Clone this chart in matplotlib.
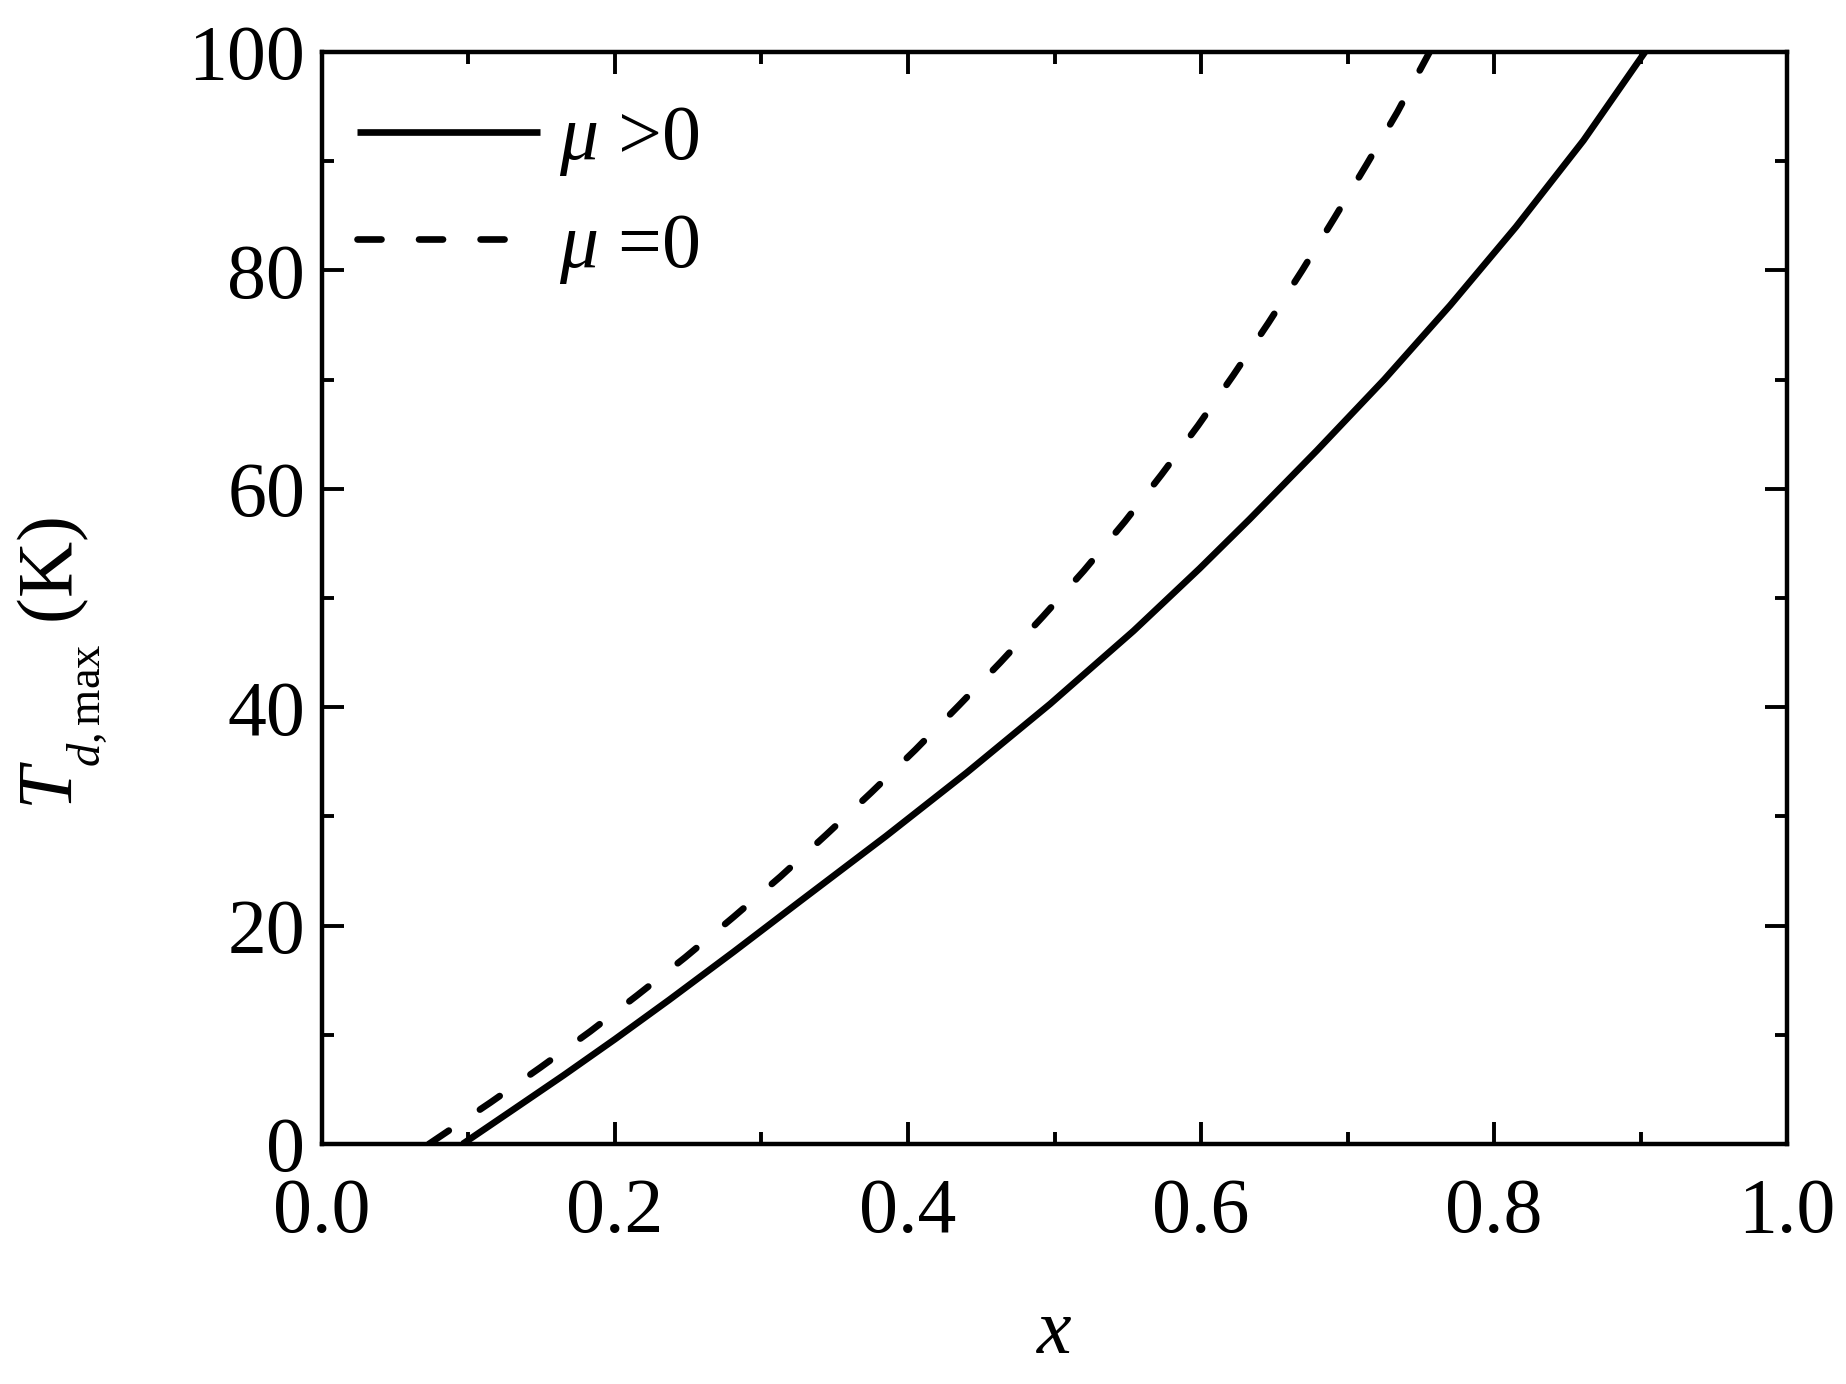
import matplotlib
matplotlib.use("Agg")
import matplotlib.pyplot as plt
from matplotlib import _mathtext
from matplotlib.ticker import MultipleLocator

# ---------------------------------------------------------------
# data
# ---------------------------------------------------------------
x_mu_pos = [0.096, 0.130, 0.165, 0.200, 0.237, 0.281, 0.326, 0.385, 0.440,
            0.497, 0.554, 0.599, 0.633, 0.679, 0.725, 0.770, 0.815, 0.861,
            0.903]
T_mu_pos = [0.0, 3.1, 6.3, 9.6, 13.2, 17.6, 22.2, 28.2, 34.0,
            40.3, 47.0, 52.7, 57.2, 63.5, 70.0, 76.8, 84.0, 91.9,
            100.0]

x_mu_zero = [0.073, 0.115, 0.149, 0.183, 0.215, 0.248, 0.281, 0.313, 0.344,
             0.375, 0.405, 0.435, 0.463, 0.492, 0.520, 0.548, 0.573, 0.598,
             0.622, 0.646, 0.669, 0.691, 0.713, 0.734, 0.756]
T_mu_zero = [0.0, 3.8, 7.0, 10.3, 13.6, 17.1, 20.8, 24.5, 28.3,
             32.2, 36.1, 40.2, 44.1, 48.3, 52.5, 57.0, 61.3, 65.8,
             70.4, 75.2, 80.0, 84.8, 89.7, 94.5, 100.0]

labels = [r"$\mu$ >0", r"$\mu$ =0"]

plt.rcParams["font.family"] = ["Liberation Serif", "DejaVu Serif"]
plt.rcParams["mathtext.fontset"] = "custom"
plt.rcParams["mathtext.rm"] = "Liberation Serif"
plt.rcParams["mathtext.it"] = "Liberation Serif:italic"
plt.rcParams["mathtext.bf"] = "Liberation Serif:bold"
# smaller, lower subscript like in the original (T_d,max)
_mathtext.SHRINK_FACTOR = 0.6
_mathtext.FontConstantsBase.sub1 = 0.8

fig = plt.figure(figsize=(9.23, 6.92), dpi=200)
ax = fig.add_axes([0.1744, 0.1734, 0.9681 - 0.1744, 0.9624 - 0.1734])

ax.plot(x_mu_pos, T_mu_pos, color="black", lw=2.4, solid_capstyle="butt",
        solid_joinstyle="round", label=labels[0])
ax.plot(x_mu_zero, T_mu_zero, color="black", lw=2.4,
        linestyle=(0, (3.6, 5.63)), dash_capstyle="round", label=labels[1])

ax.set_xlim(0, 1.0)
ax.set_ylim(0, 100)
ax.xaxis.set_major_locator(MultipleLocator(0.2))
ax.xaxis.set_minor_locator(MultipleLocator(0.1))
ax.yaxis.set_major_locator(MultipleLocator(20))
ax.yaxis.set_minor_locator(MultipleLocator(10))
ax.xaxis.set_major_formatter(plt.FuncFormatter(lambda v, p: f"{v:.1f}"))
ax.yaxis.set_major_formatter(plt.FuncFormatter(lambda v, p: f"{v:.0f}"))

for s in ax.spines.values():
    s.set_linewidth(1.6)
ax.tick_params(which="both", direction="in", top=True, right=True,
               width=1.4, labelsize=28)
ax.tick_params(which="major", length=7.9)
ax.tick_params(which="minor", length=4.3)
ax.tick_params(axis="x", which="major", pad=12)
ax.tick_params(axis="y", which="major", pad=6)

ax.set_xlabel(r"$x$", fontsize=28, labelpad=18)
ax.set_ylabel(r"$T_{d,\mathrm{max}}$ (K)", fontsize=28)
ax.yaxis.set_label_coords(-0.145, 0.44)

leg = ax.legend(loc="upper left", bbox_to_anchor=(0.024, 0.952),
                frameon=False, fontsize=28, handlelength=2.35,
                handletextpad=0.25, borderpad=0, borderaxespad=0,
                labelspacing=0.44)

fig.savefig("out.png", dpi=200)
